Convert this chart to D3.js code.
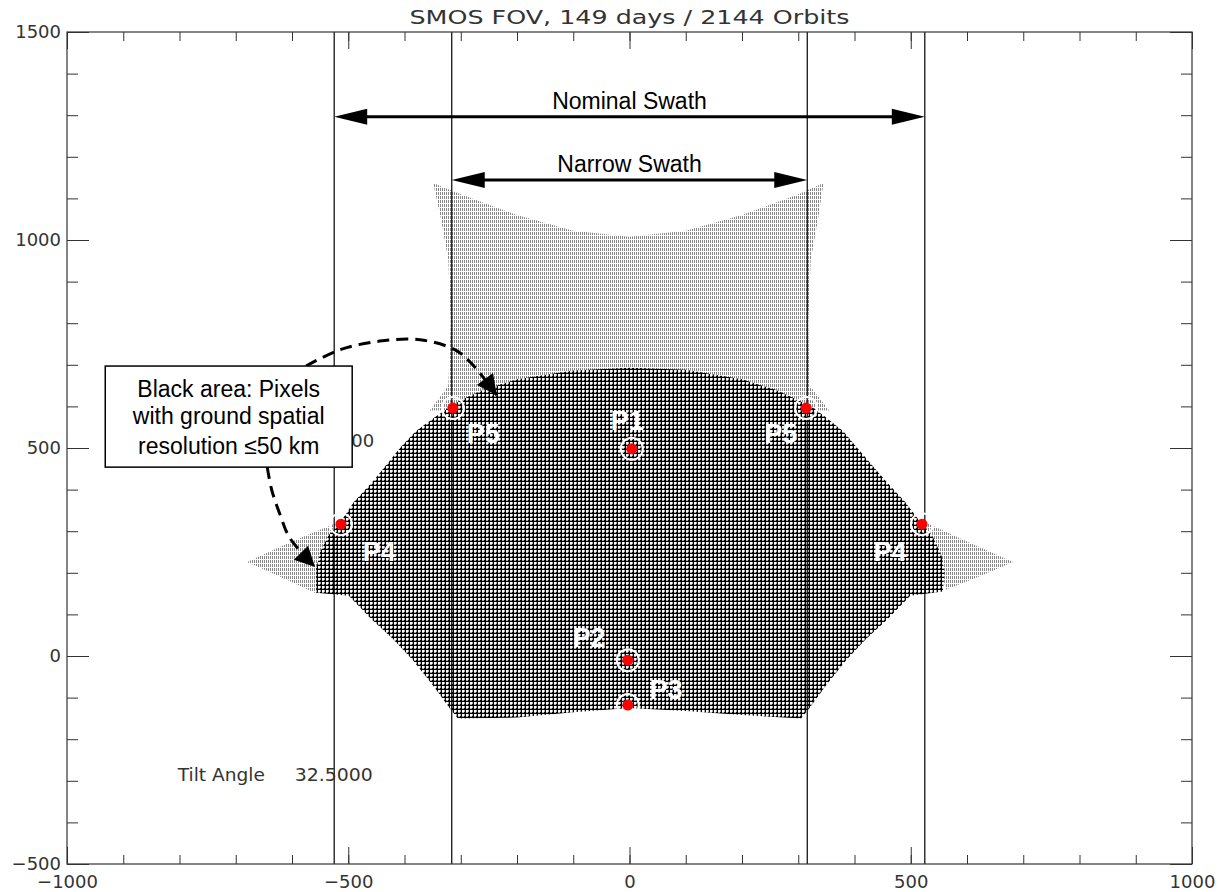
<!DOCTYPE html>
<html><head><meta charset="utf-8">
<script src="https://cdn.jsdelivr.net/npm/d3@7/dist/d3.min.js"></script>
<style>body{margin:0;background:#fff}</style>
</head><body>
<svg id="c" width="1225" height="892"></svg>
<script>
// ---------- data ----------
const title = "SMOS FOV, 149 days / 2144 Orbits";
const xMajorTicks = [-1000, -500, 0, 500, 1000];
const yMajorTicks = [-500, 0, 500, 1000, 1500];
const xMinorTicks = d3.range(-1000, 1001, 100);
const yMinorTicks = d3.range(-500, 1501, 100);

// swath boundaries (km)
const nominalSwath = [-525, 525];
const narrowSwath = [-316, 316];
const nominalArrowY = 1296, narrowArrowY = 1144;

// FOV region: black area (resolution <= 50 km)
const darkArea = [
  [-557,152],[-557,210],[-550,250],[-535,290],[-515,320],[-490,370],[-454,423],[-408,500],
  [-380,540],[-345,575],[-320,598],[-300,615],[-260,640],[-200,665],[-100,686],[0,693],
  [100,688],[200,665],[260,640],[300,615],[325,598],[345,578],[380,540],[405,500],
  [454,423],[490,370],[520,317],[540,285],[555,240],[560,200],[557,155],[499,145],
  [460,90],[420,40],[385,-10],[350,-70],[320,-125],[305,-150],[200,-142],[100,-132],
  [0,-125],[-100,-135],[-200,-148],[-305,-150],[-320,-125],[-350,-70],[-385,-10],
  [-420,40],[-460,90],[-499,145]
];
// full FOV (light area)
const lightTop = [
  [-349,1137],[-300,1110],[-200,1060],[-100,1022],[0,1008],[100,1022],[200,1060],[300,1110],
  [345,1137],[335,1050],[322,950],[318,800],[320,650],[355,590],[0,600],[-355,590],
  [-322,650],[-318,800],[-322,950],[-335,1050]
];
const lightLeft = [[-512,325],[-600,275],[-680,226],[-620,190],[-557,150],[-540,250]];
const lightRight = [[520,325],[600,275],[682,226],[620,190],[563,160],[545,250]];

// reference points
const pointNames = ["P1","P2","P3","P4","P4","P5","P5"];
const pointX = [4, -3, -3, -513, 520, -314, 314];
const pointY = [498, -10, -118, 317, 317, 596, 596];
const labelX = [-4, -72, 65, -445, 463, -260, 269];
const labelY = [543, 22, -103, 228, 228, 512, 512];

// annotation
const boxLines = ["Black area: Pixels", "with ground spatial", "resolution \u226450 km"];
const boxCorners = [[-932, 697], [-493, 454]];
const boxLineY = [622, 557, 486];
const arrowUpper = [[-575,697],[-515,736],[-444,757],[-372,760],[-310,736],[-280,702],[-236,627]];
const arrowLower = [[-644,454],[-636,399],[-621,339],[-604,284],[-559,214]];
const hiddenLabel = {text: "500", x: -454, y: 502};
const tiltText = ["Tilt Angle", "32.5000"];
const tiltPos = [[-803, -300], [-595, -300]];

// ---------- drawing ----------
const svg = d3.select("#c");
const L = 67, R = 1192, T = 32, B = 864;
const x = d3.scaleLinear().domain([-1000, 1000]).range([L, R]);
const y = d3.scaleLinear().domain([-500, 1500]).range([B, T]);

const defs = svg.append("defs");
const pd = defs.append("pattern").attr("id","dark").attr("patternUnits","userSpaceOnUse")
  .attr("width",4).attr("height",4);
pd.append("rect").attr("width",4).attr("height",4).attr("fill","#000");
pd.append("rect").attr("x",2).attr("y",2).attr("width",2).attr("height",2).attr("fill","#fff");
pd.append("rect").attr("x",0).attr("y",2).attr("width",1).attr("height",2).attr("fill","#aaa");
pd.append("rect").attr("x",2).attr("y",0).attr("width",2).attr("height",1).attr("fill","#aaa");
const pl = defs.append("pattern").attr("id","light").attr("patternUnits","userSpaceOnUse")
  .attr("width",4).attr("height",4);
pl.append("rect").attr("width",4).attr("height",4).attr("fill","#fff");
pl.append("rect").attr("x",0).attr("y",0).attr("width",1).attr("height",3).attr("fill","#888");
pl.append("rect").attr("x",2).attr("y",0).attr("width",1).attr("height",3).attr("fill","#888");

defs.append("marker").attr("id","ah").attr("viewBox","0 0 10 10").attr("refX",10).attr("refY",5)
  .attr("markerUnits","userSpaceOnUse").attr("markerWidth",28).attr("markerHeight",20)
  .attr("orient","auto")
  .append("path").attr("d","M0,0L10,5L0,10Z").attr("fill","#000").attr("stroke","none");

const poly = d3.line().x(d => x(d[0])).y(d => y(d[1]));
const clip = defs.append("clipPath").attr("id","pc");
clip.append("rect").attr("x",L).attr("y",T).attr("width",R-L).attr("height",B-T);

const g = svg.append("g").attr("clip-path","url(#pc)");
[lightTop, lightLeft, lightRight].forEach(p =>
  g.append("path").attr("d", poly(p) + "Z").attr("fill","url(#light)"));
g.append("path").attr("d", poly(darkArea) + "Z").attr("fill","url(#dark)");

// swath vertical lines
[...nominalSwath, ...narrowSwath].forEach(v =>
  g.append("line").attr("x1",x(v)).attr("x2",x(v)).attr("y1",T).attr("y2",B)
   .attr("stroke","#000").attr("stroke-width",1.2));

// axes
const tickFont = "'DejaVu Sans', sans-serif";
function styleAxis(sel){
  sel.select(".domain").remove();
  sel.selectAll("line").attr("stroke","#333");
  sel.selectAll("text").attr("font-family",tickFont).attr("font-size",18).attr("fill","#333");
}
const fmt = d3.format("d");
svg.append("g").attr("transform",`translate(0,${B})`)
  .call(d3.axisBottom(x).tickValues(xMinorTicks).tickSize(-9).tickFormat("")).call(styleAxis);
svg.append("g").attr("transform",`translate(0,${B})`)
  .call(d3.axisBottom(x).tickValues(xMajorTicks).tickSize(-17).tickPadding(11).tickFormat(fmt)).call(styleAxis);
svg.append("g").attr("transform",`translate(0,${T})`)
  .call(d3.axisTop(x).tickValues(xMinorTicks).tickSize(-9).tickFormat("")).call(styleAxis);
svg.append("g").attr("transform",`translate(0,${T})`)
  .call(d3.axisTop(x).tickValues(xMajorTicks).tickSize(-17).tickFormat("")).call(styleAxis);
svg.append("g").attr("transform",`translate(${L},0)`)
  .call(d3.axisLeft(y).tickValues(yMinorTicks).tickSize(-11).tickFormat("")).call(styleAxis);
svg.append("g").attr("transform",`translate(${L},0)`)
  .call(d3.axisLeft(y).tickValues(yMajorTicks).tickSize(-22).tickPadding(6).tickFormat(fmt)).call(styleAxis);
svg.append("g").attr("transform",`translate(${R},0)`)
  .call(d3.axisRight(y).tickValues(yMinorTicks).tickSize(-11).tickFormat("")).call(styleAxis);
svg.append("g").attr("transform",`translate(${R},0)`)
  .call(d3.axisRight(y).tickValues(yMajorTicks).tickSize(-22).tickFormat("")).call(styleAxis);
svg.append("rect").attr("x",L).attr("y",T).attr("width",R-L).attr("height",B-T)
  .attr("fill","none").attr("stroke","#333").attr("stroke-width",1.2);

svg.append("text").attr("x",(L+R)/2).attr("y",24).attr("text-anchor","middle")
  .attr("font-family",tickFont).attr("font-size",20).attr("fill","#333")
  .attr("textLength",440).attr("lengthAdjust","spacingAndGlyphs").text(title);

// swath arrows
const sans = "'Liberation Sans', Arial, sans-serif";
function dblArrow(x0, x1, yy){
  const px0 = x(x0), px1 = x(x1), py = y(yy), hl = 33, hw = 8;
  svg.append("line").attr("x1",px0+hl-2).attr("x2",px1-hl+2).attr("y1",py).attr("y2",py)
    .attr("stroke","#000").attr("stroke-width",3);
  svg.append("path").attr("d",`M${px0},${py}L${px0+hl},${py-hw}L${px0+hl},${py+hw}Z`).attr("fill","#000");
  svg.append("path").attr("d",`M${px1},${py}L${px1-hl},${py-hw}L${px1-hl},${py+hw}Z`).attr("fill","#000");
}
dblArrow(nominalSwath[0], nominalSwath[1], nominalArrowY);
dblArrow(narrowSwath[0], narrowSwath[1], narrowArrowY);
svg.append("text").attr("x",x(0)).attr("y",y(nominalArrowY)-8).attr("text-anchor","middle")
  .attr("font-family",sans).attr("font-size",23).text("Nominal Swath");
svg.append("text").attr("x",x(0)).attr("y",y(narrowArrowY)-8).attr("text-anchor","middle")
  .attr("font-family",sans).attr("font-size",23).text("Narrow Swath");

// points
pointX.forEach((px, i) => {
  svg.append("circle").attr("cx",x(px)).attr("cy",y(pointY[i])).attr("r",11)
    .attr("fill","none").attr("stroke","#fff").attr("stroke-width",2);
  svg.append("circle").attr("cx",x(px)).attr("cy",y(pointY[i])).attr("r",5.5).attr("fill","#ff0000");
  svg.append("text").attr("x",x(labelX[i])).attr("y",y(labelY[i])).attr("text-anchor","middle")
    .attr("font-family",sans).attr("font-weight","bold").attr("font-size",27).attr("fill","#fff")
    .text(pointNames[i]);
});

// hidden label under box, tilt angle text
svg.append("text").attr("x",x(hiddenLabel.x)).attr("y",y(hiddenLabel.y)).attr("text-anchor","end")
  .attr("font-family",tickFont).attr("font-size",18).attr("fill","#333").text(hiddenLabel.text);
svg.append("text").attr("x",x(tiltPos[0][0])).attr("y",y(tiltPos[0][1]))
  .attr("font-family",tickFont).attr("font-size",17).attr("fill","#333")
  .attr("textLength",87).attr("lengthAdjust","spacingAndGlyphs").text(tiltText[0]);
svg.append("text").attr("x",x(tiltPos[1][0])).attr("y",y(tiltPos[1][1]))
  .attr("font-family",tickFont).attr("font-size",17).attr("fill","#333")
  .attr("textLength",78).attr("lengthAdjust","spacingAndGlyphs").text(tiltText[1]);

// dashed annotation arrows
const curve = d3.line().x(d => x(d[0])).y(d => y(d[1])).curve(d3.curveCatmullRom);
[arrowUpper, arrowLower].forEach(a =>
  svg.append("path").attr("d", curve(a)).attr("fill","none").attr("stroke","#000")
    .attr("stroke-width",3).attr("stroke-dasharray","12,7").attr("marker-end","url(#ah)"));

// annotation box
svg.append("rect").attr("x",x(boxCorners[0][0])).attr("y",y(boxCorners[0][1]))
  .attr("width",x(boxCorners[1][0]) - x(boxCorners[0][0]))
  .attr("height",y(boxCorners[1][1]) - y(boxCorners[0][1]))
  .attr("fill","#fff").attr("stroke","#000").attr("stroke-width",1.5);
const bcx = (x(boxCorners[0][0]) + x(boxCorners[1][0])) / 2;
boxLines.forEach((t, i) =>
  svg.append("text").attr("x",bcx).attr("y",y(boxLineY[i])).attr("text-anchor","middle")
    .attr("font-family",sans).attr("font-size",23).attr("fill","#000").text(t));
</script>
</body></html>
